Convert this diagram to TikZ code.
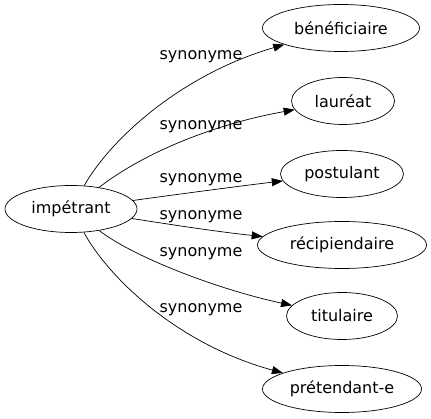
\documentclass[tikz,border=0pt]{standalone}
\usepackage{fontspec}
\setmainfont{DejaVu Sans}
\usetikzlibrary{shapes.geometric,arrows.meta}

\begin{document}
\begin{tikzpicture}[x=1pt, y=-1pt, font=\fontsize{16}{19}\selectfont,
  word/.style={ellipse, draw, line width=0.7pt, inner sep=0pt, minimum height=47},
  syn/.style={anchor=base, inner sep=0pt},
  rel/.style={-{Triangle[length=11pt, width=8pt]}, line width=0.7pt}]
\useasboundingbox (0,0) rectangle (431,419);
\node[word, minimum width=132] (imp) at (71,209) {impétrant};
\node[word, minimum width=157] (ben) at (341,28) {bénéficiaire};
\node[word, minimum width=103] (lau) at (343,101) {lauréat};
\node[word, minimum width=123] (pos) at (342,174) {postulant};
\node[word, minimum width=169] (rec) at (342,245) {récipiendaire};
\node[word, minimum width=111] (tit) at (342,316) {titulaire};
\node[word, minimum width=159] (pre) at (342,389) {prétendant-e};
\draw[rel] (imp) .. controls (110,140) and (180,75) .. (ben) node[syn] at (201,60) {synonyme};
\draw[rel] (imp) .. controls (145,152) and (215,124) .. (lau) node[syn] at (201,130) {synonyme};
\draw[rel] (imp) .. controls (180,194) and (240,186) .. (pos) node[syn] at (201,183) {synonyme};
\draw[rel] (imp) .. controls (180,226) and (220,232) .. (rec) node[syn] at (201,220) {synonyme};
\draw[rel] (imp) .. controls (135,258) and (220,290) .. (tit) node[syn] at (201,257) {synonyme};
\draw[rel] (imp) .. controls (110,280) and (180,345) .. (pre) node[syn] at (201,313) {synonyme};
\end{tikzpicture}
\end{document}
